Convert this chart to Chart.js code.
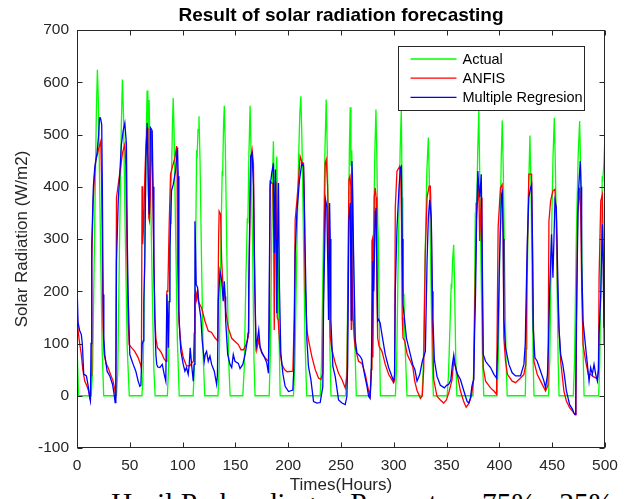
<!DOCTYPE html>
<html>
<head>
<meta charset="utf-8">
<title>Result of solar radiation forecasting</title>
<script src="https://cdn.jsdelivr.net/npm/chart.js@4.4.0/dist/chart.umd.min.js"></script>
<style>
  html, body { margin: 0; padding: 0; background: #fff; overflow: hidden; }
  #wrap { position: relative; width: 630px; height: 499px; overflow: hidden; }
  #caption {
    position: absolute; left: 111px; top: 488px;
    font-family: "Liberation Serif", "DejaVu Serif", serif; font-size: 29.5px; line-height: 30px;
    color: #000; white-space: nowrap;
  }
  #chart { position: absolute; left: 0; top: 0; }
</style>
</head>
<body>
<div id="wrap">
  <div id="caption">Hasil Perbandingan Persentase 75% : 25%</div>
  <canvas id="chart" width="630" height="499"></canvas>
</div>
<script>
// [hour, W/m2] pairs for each series
const actual = [
  [0,100],[1.5,0],
  [13.5,0],[14.8,50],[16.5,290],[18.3,540],[19.3,624],[20.3,560],[22,330],[23.8,90],[25.3,0],
  [37.4,0],[38.6,45],[40.2,280],[42,520],[43,605],[44,540],[45.6,320],[47.6,90],[49.5,0],
  [61.5,0],[62.7,50],[64.3,300],[65.6,500],[66.4,584],[67.1,470],[67.6,540],[68.3,566],[69.4,430],[71.3,200],[72.8,50],[74,0],
  [85.6,0],[86.8,60],[88.4,330],[89,424],[89.4,410],[90.3,510],[91.1,570],[92,500],[93.3,322],[95,110],[96.8,0],
  [110,0],[111.2,60],[112.5,320],[113.3,470],[113.7,455],[114.6,510],[115.5,535],[116.5,450],[118,250],[119.6,70],[121,0],
  [133.5,0],[134.7,55],[136.3,300],[137.5,430],[137.9,420],[138.8,520],[139.5,555],[140.5,470],[142,260],[143.6,70],[145,0],
  [157,0],[158.3,50],[160,230],[161.3,340],[161.8,330],[162.8,460],[163.9,555],[165,450],[166.5,250],[167.6,70],[168.6,0],
  [182,0],[183.1,80],[184.4,300],[185.4,440],[186,487],[186.8,380],[187.5,330],[188.4,420],[189.2,458],[190.2,320],[191.3,120],[192.4,0],
  [205,0],[206.3,60],[208,260],[209.8,450],[211,540],[212,573],[213,490],[214.5,300],[216,100],[217.5,0],
  [230.3,0],[231.5,60],[233.2,280],[234.8,470],[236,567],[237,470],[238.3,280],[239.5,90],[240.5,0],
  [254.5,0],[255.6,60],[257,300],[258,480],[258.7,552],[259.4,440],[260.2,470],[261.3,330],[262.8,120],[264.5,0],
  [277.8,0],[279,60],[280.6,280],[282.1,470],[283.1,548],[284,450],[284.8,330],[285.4,300],[286.3,130],[287.3,0],
  [301.5,0],[302.7,60],[304.4,290],[306,470],[307.1,548],[307.9,380],[308.5,220],[309,195],[309.6,190],[310.6,100],[312.5,0],
  [326.8,0],[328,60],[329.6,260],[331.3,430],[332.7,494],[333.8,400],[335.2,220],[336.5,60],[337.5,0],
  [350.5,0],[351.8,40],[353.3,140],[354.4,215],[354.8,205],[355.7,260],[356.7,289],[357.5,220],[358.6,80],[359.7,0],
  [375,0],[376,80],[377.2,350],[377.6,370],[378.3,340],[379.5,470],[380.5,547],[381.4,420],[382.6,250],[384,70],[385.2,0],
  [397.8,0],[399,70],[400.5,300],[401.8,460],[402.7,527],[403.7,430],[405,240],[406.3,70],[407.4,0],
  [424.5,0],[425.4,90],[426.1,240],[426.5,235],[427.5,380],[428.9,498],[429.9,400],[431,220],[432,60],[432.8,0],
  [446.5,0],[447.7,70],[449.3,300],[450.8,460],[452,532],[453,440],[454.4,250],[455.6,70],[456.5,0],
  [470,0],[471.2,70],[472.8,300],[474.6,460],[476,526],[477,430],[478.3,240],[479.4,70],[480.2,0],
  [494,0],[495,60],[496.3,250],[497.4,420],[497.8,410],[499,446],[500,500]
];

const anfis = [
  [0,165],[1,125],[2.5,100],[4,80],[5.5,50],[7.3,28],[9.5,18],[11.4,6],[12.7,-7],
  [13.3,40],[14,258],[15.2,366],[16.5,420],[17.7,449],[20,468],[21.5,480],[22.5,487],[23.2,420],[23.8,322],[24.7,130],[25.7,79],[27.5,62],[29.4,54],[31.7,41],[34.2,28],[35.8,12],[36.6,-5],
  [37.4,379],[39.9,417],[41.5,440],[43.1,465],[45.3,481],[46.2,440],[47.5,258],[48.5,140],[49.4,98],[51.6,92],[54.7,85],[57.9,73],[60.1,60],[61,52],
  [61.6,401],[62.2,290],[63.2,330],[64.2,417],[65.3,480],[66.5,513],[67.2,470],[68,341],[68.6,335],[69.4,380],[70.6,507],[71.3,450],[72.8,258],[73.7,152],[74.7,110],[76.2,92],[78,88],[80,82],[82.6,70],[84.5,66],
  [85.1,200],[86,200],[87.3,328],[88.6,424],[90.1,436],[92.7,455],[94.3,478],[94.8,430],[95.2,258],[96.5,143],[98.4,98],[100.6,73],[103.7,57],[106.9,57],[108.5,62],[110.3,66],
  [111,120],[111.6,190],[112.4,198],[113.2,185],[114.2,203],[114.8,181],[118,168],[121.1,143],[124.3,124],[127.5,121],[130.6,111],[133.2,105],
  [134.1,300],[134.6,353],[136,347],[137,258],[138.5,200],[139.5,207],[140.8,162],[143.3,130],[146.5,110],[149.6,104],[152.8,98],[155.3,88],[157.6,88],[160.1,98],[161.4,107],[162.3,114],
  [163.3,273],[164.5,452],[165.8,471],[167.1,445],[168,273],[169.3,107],[170.2,88],[171.8,107],[173.4,91],[175,82],[177.2,75],[179.7,69],[181.3,66],
  [182.2,145],[182.8,410],[185.5,405],[186.3,300],[186.8,126],[187.6,320],[188.3,410],[189,300],[189.6,150],[190.5,145],[191.3,120],[192.5,82],[194,60],[196.5,50],[199,46],[204.4,47],
  [205.8,150],[206.6,337],[208.2,372],[209.8,413],[211.3,458],[212.9,448],[214.5,445],[215.3,380],[216.1,209],[217.7,126],[219.2,107],[222.4,75],[225.6,50],[228.7,34],[230.9,31],[232.8,43],
  [233.5,209],[235,445],[236,452],[237.3,401],[238.5,273],[239.8,114],[241.4,88],[244.5,63],[247.7,43],[250.9,31],[254,15],[255.6,37],
  [256.3,145],[257.5,414],[258.5,420],[259.3,400],[259.7,127],[260.1,300],[260.8,200],[261.5,150],[262.5,110],[263.5,92],[266.6,66],[269.8,62],[273,41],[276.1,10],[277.5,0],
  [278.6,50],[279.3,296],[279.8,300],[280.2,73],[280.8,200],[281.5,380],[282.4,398],[283.2,380],[284,200],[284.7,111],[286,95],[288.8,85],[291.9,60],[295.1,41],[299.8,25],[300.8,30],
  [301.4,360],[303,430],[305.6,439],[306.5,430],[307.3,330],[308,150],[308.7,111],[310.3,105],[312.6,80],[314.1,73],[316,65],[318,55],[319.8,28],[322,10],[325.2,-5],[327,0],[328.3,50],
  [329.8,273],[331.5,380],[333.5,401],[334.6,401],[335.5,340],[336.5,150],[337.8,31],[340.9,-1],[344.1,-8],[347.2,-14],[349.8,-8],[352,5],[355.1,30],
  [356.7,66],[358,58],[359.9,43],[363,10],[366,-10],[368.5,-22],[371,-15],[373.5,0],[375.5,30],
  [376.5,150],[378.3,347],[380.5,404],[381.3,296],[382.8,379],[383.5,250],[384.7,54],[386.9,28],[391.6,15],[394.8,9],[397.3,3],
  [398.8,322],[401,398],[402.6,404],[403.6,300],[404.2,111],[405.8,66],[407.6,41],[412.1,28],[415.3,25],[420,34],[423.2,41],[425,60],
  [426.3,258],[427.9,424],[430.5,424],[431.5,250],[432.7,66],[435.8,41],[439,28],[443.7,9],[446,20],
  [446.9,334],[448.5,373],[450.7,392],[452.6,395],[454,340],[455.1,200],[456.4,130],[458,66],[461.1,9],[463.4,-10],[466.5,-23],[469,-29],[471.6,-36],[472.5,-20],
  [473.3,200],[474.1,347],[476,398],[477,350],[478,200],[479.2,98],[481.7,66],[484.2,41],[486.4,41],[488,38],[491.2,34],[492.8,34],[493.8,50],
  [494.4,226],[496,373],[497.5,385],[498.5,250],[499.1,98],[499.6,200],[500,380]
];

const regression = [
  [0,213],[1,140],[2.5,125],[4.1,117],[5,100],[6.4,41],[7.5,40],[8.9,38],[10.5,20],[12,-4],[12.7,-10],
  [13.3,100],[14,290],[15.5,400],[16.8,436],[19,465],[20.5,500],[21.3,532],[22.2,532],[23.4,519],[24,400],[24.7,194],[25.4,110],[26.3,79],[28.5,47],[31,38],[33.6,22],[35,5],[36.1,-13],[36.8,-10],
  [37.4,258],[39,370],[40.5,424],[42,480],[43.7,507],[45.3,522],[46.8,481],[47.6,300],[48.4,194],[50,79],[51.5,70],[53.2,60],[55.7,47],[57.9,28],[59.5,18],[60.5,20],
  [61.7,98],[62.7,105],[63.3,180],[64.2,258],[65.2,450],[66.5,522],[67.7,385],[68.4,347],[69.6,513],[70.5,510],[71.2,507],[72,400],[72.8,258],[73.7,150],[74.7,79],[75.5,60],[76.5,55],[78.5,54],[80.7,60],[82.6,41],[84.1,28],
  [85.1,194],[85.8,150],[86.4,92],[87.2,180],[88,283],[89.5,392],[91.1,404],[93.3,430],[95.2,475],[95.8,420],[96.5,162],[97.3,120],[98.4,85],[100.6,60],[102.2,47],[103.7,54],[105.3,41],[106.3,60],[107.2,92],[108.5,60],[110.1,28],[110.9,60],
  [111.7,334],[112.3,280],[112.9,213],[114.2,207],[115.5,175],[117.3,149],[118.6,105],[120.5,66],[121.5,80],[122.7,85],[124.3,66],[125.9,76],[127.5,60],[130,47],[132.2,22],[133,40],
  [133.8,181],[135.4,239],[136.3,230],[137,219],[138.5,181],[139.5,219],[140.3,190],[140.8,143],[142.7,79],[144.9,60],[146.5,54],[148,79],[149.6,66],[152.8,62],[154.4,52],[157,60],[159.1,78],[161.4,107],[162,120],
  [162.6,209],[164.5,458],[165.8,464],[167.1,401],[168.3,209],[169.6,94],[170.8,107],[172.1,126],[173.4,94],[175.3,82],[177.2,75],[179.7,63],[181.3,43],
  [182.9,401],[184.4,426],[186,445],[187,273],[187.9,433],[188.5,300],[189.2,158],[190,300],[190.8,407],[191.7,209],[193,82],[194.9,43],[197.1,18],[200.3,8],[204.4,11],
  [205.3,50],[206.6,273],[208.2,350],[210.7,413],[212.9,445],[214.5,439],[216.1,273],[217.7,107],[219.2,56],[221.5,31],[224,-11],[227.2,-14],[230.3,-13],[232.8,18],
  [233.5,177],[235.4,375],[236.6,362],[237.5,250],[238.2,145],[239.2,369],[239.8,300],[240.4,145],[242.3,56],[244.5,37],[247.7,-8],[250.9,-14],[254,-17],[255.6,-1],
  [256.3,60],[257.5,337],[258.8,369],[259.7,145],[260.3,449],[260.8,420],[261.9,273],[263.5,107],[265.1,82],[268.3,75],[269.9,69],[272.1,43],[274.6,18],[276.2,-1],[277.5,-5],
  [278.6,40],[280.2,258],[281,200],[282.4,353],[283.1,360],[284,250],[284.7,143],[285.6,146],[287,140],[288.8,117],[291.9,79],[295.1,54],[299.8,28],[300.7,40],
  [301.4,200],[303,320],[305,400],[306.2,436],[307.2,439],[308,300],[308.7,175],[310.3,143],[312,110],[314.1,92],[317.9,60],[320,50],[322,28],[324.6,41],[327,66],[329.9,85],
  [331.5,258],[332.7,340],[334,375],[335.5,337],[336.5,200],[337.1,145],[338.4,69],[340.9,37],[344.1,20],[347.9,15],[350,20],[352,22],[354,30],[355.5,60],[356.8,78],[358,60],[359.9,43],[363.1,31],[366.2,10],[369.4,-11],[371,-14],[372.5,-5],[374.1,20],[375.7,31],
  [376.5,120],[377.4,194],[378.5,350],[379.6,430],[380.4,400],[381.5,380],[382.8,424],[383.6,300],[384.7,79],[386.9,66],[389.1,60],[391.6,54],[394.8,41],[397.3,34],
  [398.5,100],[400.1,258],[402,385],[402.8,390],[403.6,300],[404.2,149],[405.8,92],[409,60],[412.1,44],[415.3,38],[420,38],[423.2,60],[424.5,100],
  [425.4,194],[426.5,300],[427.9,380],[429.5,398],[430.5,404],[431.3,300],[432,130],[433.6,73],[435.8,66],[439,47],[442.2,28],[443.7,15],[445.5,40],[446.5,100],
  [447.5,194],[449.4,309],[450.7,226],[452.6,373],[453.9,360],[455.1,245],[456.4,130],[458,79],[460,60],[461.5,40],[463.4,10],[466.5,-17],[469,-25],[470.6,-33],[471.6,-36],[472.3,0],
  [472.8,130],[474.7,385],[476.6,449],[477.3,400],[477.9,258],[479.2,143],[481.7,92],[484.9,28],[486.4,54],[488,41],[489.6,60],[491.2,41],[492.8,28],[493.8,50],
  [494.4,120],[496,194],[497.5,328],[498.3,250],[499,130],[499.5,250],[500,330]
];

const seriesLabels = ['Actual', 'ANFIS', 'Multiple Regresion'];
const seriesColors = ['#00ff00', '#ff0000', '#0000ff'];

const FONT = '"Liberation Sans", Arial, Helvetica, sans-serif';
const INK = '#262626';

function toPoints(pairs) {
  return pairs.map(([x, y]) => ({ x, y }));
}

// box around the axes with inward ticks on all four sides, matlab style
const axesBox = {
  id: 'axesBox',
  afterDatasetsDraw(chart) {
    const { ctx, chartArea: a, scales: { x, y } } = chart;
    const L = Math.round(a.left) + 0.5, R = Math.round(a.right) - 0.5;
    const T = Math.round(a.top) + 0.5, B = Math.round(a.bottom) - 0.5;
    const len = 5;
    ctx.save();
    ctx.strokeStyle = INK;
    ctx.lineWidth = 1;
    ctx.strokeRect(L, T, R - L, B - T);
    ctx.beginPath();
    x.ticks.forEach(t => {
      const px = Math.round(x.getPixelForValue(t.value)) + 0.5;
      ctx.moveTo(px, B); ctx.lineTo(px, B - len);
      ctx.moveTo(px, T); ctx.lineTo(px, T + len);
    });
    y.ticks.forEach(t => {
      const py = Math.round(y.getPixelForValue(t.value)) + 0.5;
      ctx.moveTo(L, py); ctx.lineTo(L + len, py);
      ctx.moveTo(R, py); ctx.lineTo(R - len, py);
    });
    ctx.stroke();
    ctx.restore();
  }
};

// legend box in the upper right corner of the plot
const boxLegend = {
  id: 'boxLegend',
  afterDraw(chart) {
    const { ctx, chartArea: a } = chart;
    const w = 186, h = 64;
    const bx = Math.round(a.right - 21 - w) + 0.5;
    const by = Math.round(a.top + 16) + 0.5;
    ctx.save();
    ctx.fillStyle = '#fff';
    ctx.fillRect(bx, by, w, h);
    ctx.strokeStyle = INK;
    ctx.lineWidth = 1;
    ctx.strokeRect(bx, by, w, h);
    ctx.font = '14.5px ' + FONT;
    ctx.textBaseline = 'middle';
    ctx.fillStyle = '#000';
    chart.data.datasets.forEach((ds, i) => {
      const ry = by + 12.5 + i * 19.2;
      ctx.strokeStyle = ds.borderColor;
      ctx.lineWidth = 1.3;
      ctx.beginPath();
      ctx.moveTo(bx + 12, ry);
      ctx.lineTo(bx + 58, ry);
      ctx.stroke();
      ctx.fillText(ds.label, bx + 64, ry + 0.5);
    });
    ctx.restore();
  }
};

const datasets = [actual, anfis, regression].map((pairs, i) => ({
  label: seriesLabels[i],
  data: toPoints(pairs),
  borderColor: seriesColors[i],
  backgroundColor: seriesColors[i],
  borderWidth: 1.3,
  pointRadius: 0,
  tension: 0,
  fill: false,
  order: 3 - i
}));

new Chart(document.getElementById('chart'), {
  type: 'line',
  data: { datasets },
  options: {
    responsive: false,
    animation: false,
    events: [],
    layout: { padding: { left: 0, right: 25, top: 0, bottom: 0 } },
    plugins: {
      legend: { display: false },
      tooltip: { enabled: false },
      title: {
        display: true,
        fullSize: false,
        text: 'Result of solar radiation forecasting',
        color: '#000',
        font: { family: FONT, size: 19, weight: 'bold' },
        padding: { top: 4, bottom: 3.2 }
      }
    },
    scales: {
      x: {
        type: 'linear',
        min: 0,
        max: 500,
        afterFit(scale) { scale.height = 51; },
        grid: { display: false, drawTicks: false, tickLength: 0 },
        border: { display: false },
        ticks: { stepSize: 50, color: INK, maxRotation: 0, padding: 8, font: { family: FONT, size: 15.5 } },
        title: {
          display: true,
          text: 'Times(Hours)',
          color: INK,
          font: { family: FONT, size: 17 },
          padding: { top: 0, bottom: 3 }
        }
      },
      y: {
        min: -100,
        max: 700,
        afterFit(scale) { scale.width = 77; },
        grid: { display: false, drawTicks: false, tickLength: 0 },
        border: { display: false },
        ticks: { stepSize: 100, color: INK, padding: 8, font: { family: FONT, size: 15.5 } },
        title: {
          display: true,
          text: 'Solar Radiation (W/m2)',
          color: INK,
          font: { family: FONT, size: 17 },
          padding: { top: 12, bottom: 0 }
        }
      }
    }
  },
  plugins: [axesBox, boxLegend]
});
</script>
</body>
</html>
